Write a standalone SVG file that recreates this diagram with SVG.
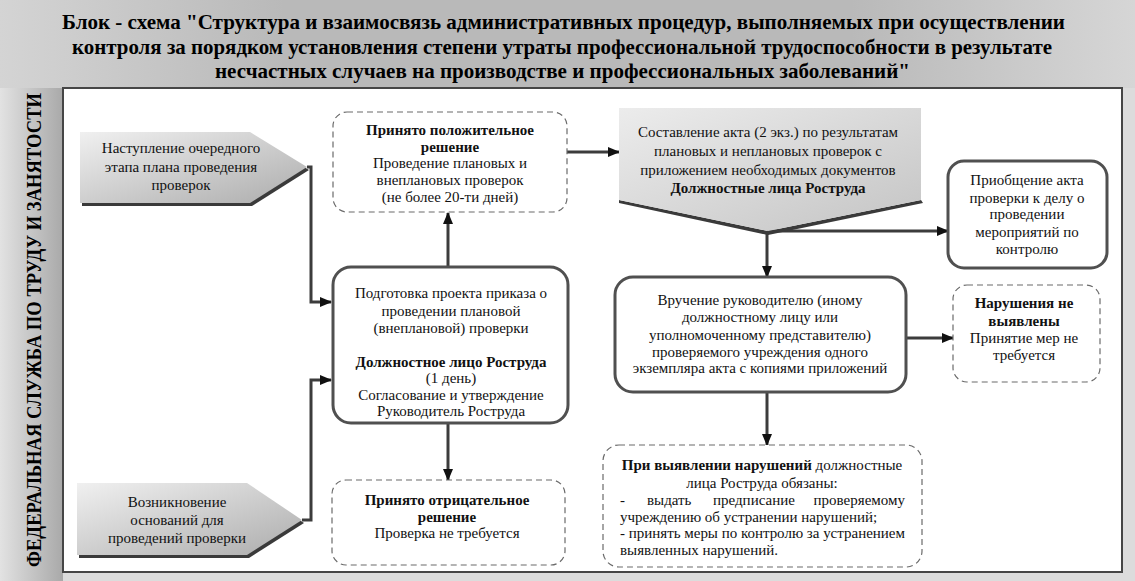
<svg xmlns="http://www.w3.org/2000/svg" width="1135" height="581" viewBox="0 0 1135 581">
<defs>
<linearGradient id="gTitle" x1="0" y1="0" x2="1" y2="0">
<stop offset="0" stop-color="#d4d4d4"/><stop offset="0.25" stop-color="#b9b9b9"/><stop offset="0.75" stop-color="#b9b9b9"/><stop offset="1" stop-color="#d6d6d6"/>
</linearGradient>
<linearGradient id="gSide" x1="0" y1="0" x2="1" y2="0">
<stop offset="0" stop-color="#e2e2e2"/><stop offset="1" stop-color="#a9a9a9"/>
</linearGradient>
<linearGradient id="gShape" x1="0" y1="0" x2="1" y2="1">
<stop offset="0" stop-color="#f0f0f0"/><stop offset="1" stop-color="#acacac"/>
</linearGradient>
<linearGradient id="gAkt" x1="0" y1="0" x2="1" y2="1">
<stop offset="0" stop-color="#ececec"/><stop offset="1" stop-color="#c4c4c4"/>
</linearGradient>
<marker id="arr" markerUnits="userSpaceOnUse" markerWidth="12" markerHeight="10" refX="11" refY="5" orient="auto">
<path d="M0,0 L12,5 L0,10 Z" fill="#111"/>
</marker>
</defs>
<style>
text{font-family:'Liberation Serif','DejaVu Serif','Times New Roman',serif;font-size:15px;fill:#111}
.c{text-anchor:middle}
.b{font-weight:bold}
.title{font-weight:bold;font-size:21px;fill:#000}
.side{font-weight:bold;font-size:20px;fill:#000}
.solid{fill:#fff;stroke:#505050;stroke-width:3}
.dash{fill:#fff;stroke:#6a6a6a;stroke-width:1.2;stroke-dasharray:6 4}
.shadow{fill:#3a3a3a}
.conn{fill:none;stroke:#3c3c3c;stroke-width:3;marker-end:url(#arr)}
</style>

<rect x="0" y="0" width="1135" height="581" fill="#dcdcdc"/>
<rect x="0" y="0" width="1135" height="88" fill="url(#gTitle)"/>
<rect x="0" y="88" width="63" height="493" fill="url(#gSide)"/>
<rect x="63" y="88" width="1059" height="484" fill="#fff" stroke="#464646" stroke-width="2"/>

<g id="title">
<text class="title" x="62" y="29" textLength="1003" lengthAdjust="spacingAndGlyphs">Блок - схема "Структура и взаимосвязь административных процедур, выполняемых при осуществлении</text>
<text class="title" x="72" y="54" textLength="980" lengthAdjust="spacingAndGlyphs">контроля за порядком установления степени утраты профессиональной трудоспособности в результате</text>
<text class="title" x="215" y="78" textLength="695" lengthAdjust="spacingAndGlyphs">несчастных случаев на производстве и профессиональных заболеваний"</text>
</g>

<g id="side-label">
<text class="side" transform="translate(41,567) rotate(-90)" x="0" y="0" textLength="474" lengthAdjust="spacingAndGlyphs">ФЕДЕРАЛЬНАЯ СЛУЖБА ПО ТРУДУ И ЗАНЯТОСТИ</text>
</g>

<g id="connectors">
<path class="conn" d="M307,167 H311 V302 H331"/>
<path class="conn" d="M302,520 H311 V380 H331"/>
<path class="conn" d="M448,267 V213"/>
<path class="conn" d="M448,423 V480"/>
<path class="conn" d="M567,152 H619"/>
<path class="conn" d="M767,231 H948"/>
<path class="conn" d="M767,231 V277"/>
<path class="conn" d="M906,338 H953"/>
<path class="conn" d="M767,392 V445"/>
</g>

<g id="n-nastuplenie">
<polygon class="shadow" points="82,135 252,135 309,170 252,206 82,206"/>
<polygon points="80,132 250,132 307,167 250,203 80,203" fill="url(#gShape)"/>
<text class="c" x="181" y="153">Наступление очередного</text>
<text class="c" x="181" y="172">этапа плана проведения</text>
<text class="c" x="181" y="190">проверок</text>
</g>

<g id="n-vozniknovenie">
<polygon class="shadow" points="79,486 249,486 304,523 249,558 79,558"/>
<polygon points="77,483 247,483 302,520 247,555 77,555" fill="url(#gShape)"/>
<text class="c" x="177" y="507">Возникновение</text>
<text class="c" x="177" y="525">оснований для</text>
<text class="c" x="177" y="543">проведений проверки</text>
</g>

<g id="n-podgotovka">
<rect class="solid" x="333" y="267" width="235" height="156" rx="18"/>
<text class="c" x="451" y="298">Подготовка проекта приказа о</text>
<text class="c" x="451" y="316">проведении плановой</text>
<text class="c" x="451" y="333">(внеплановой) проверки</text>
<text class="c b" x="451" y="367">Должностное лицо Роструда</text>
<text class="c" x="451" y="383">(1 день)</text>
<text class="c" x="451" y="400">Согласование и утверждение</text>
<text class="c" x="451" y="416">Руководитель Роструда</text>
</g>

<g id="n-polozhitelnoe">
<rect class="dash" x="333" y="112" width="234" height="100" rx="14"/>
<text class="c b" x="450" y="135">Принято положительное</text>
<text class="c b" x="450" y="152">решение</text>
<text class="c" x="450" y="168">Проведение плановых и</text>
<text class="c" x="450" y="185">внеплановых проверок</text>
<text class="c" x="450" y="202">(не более 20-ти дней)</text>
</g>

<g id="n-otricatelnoe">
<rect class="dash" x="332" y="480" width="233" height="85" rx="14"/>
<text class="c b" x="447" y="505">Принято отрицательное</text>
<text class="c b" x="447" y="522">решение</text>
<text class="c" x="447" y="538">Проверка не требуется</text>
</g>

<g id="n-akt">
<polygon class="shadow" points="619,200 768,231 921,200 923,203 768,235 619,203"/>
<polygon points="619,108 921,108 921,200 768,231 619,200" fill="url(#gAkt)"/>
<text class="c" x="768" y="137">Составление акта (2 экз.) по результатам</text>
<text class="c" x="768" y="156">плановых и неплановых проверок с</text>
<text class="c" x="768" y="175">приложением необходимых документов</text>
<text class="c b" x="768" y="193">Должностные лица Роструда</text>
</g>

<g id="n-priobshchenie">
<rect class="solid" x="948" y="161" width="159" height="107" rx="16"/>
<text class="c" x="1027" y="185">Приобщение акта</text>
<text class="c" x="1027" y="203">проверки к делу о</text>
<text class="c" x="1027" y="219">проведении</text>
<text class="c" x="1027" y="237">мероприятий по</text>
<text class="c" x="1027" y="254">контролю</text>
</g>

<g id="n-vruchenie">
<rect class="solid" x="615" y="277" width="291" height="115" rx="18"/>
<text class="c" x="760" y="305">Вручение руководителю (иному</text>
<text class="c" x="760" y="322">должностному лицу или</text>
<text class="c" x="760" y="340">уполномоченному представителю)</text>
<text class="c" x="760" y="357">проверяемого учреждения одного</text>
<text class="c" x="760" y="373">экземпляра акта с копиями приложений</text>
</g>

<g id="n-narusheniya-net">
<rect class="dash" x="953" y="285" width="147" height="97" rx="14"/>
<text class="c b" x="1024" y="308">Нарушения не</text>
<text class="c b" x="1024" y="326">выявлены</text>
<text class="c" x="1024" y="343">Принятие мер не</text>
<text class="c" x="1024" y="360">требуется</text>
</g>

<g id="n-pri-vyyavlenii">
<rect class="dash" x="603" y="445" width="319" height="122" rx="16"/>
<text class="c" x="762" y="470"><tspan class="b">При выявлении нарушений</tspan> должностные</text>
<text class="c" x="762" y="488">лица Роструда обязаны:</text>
<text x="620" y="505">-</text>
<text x="647" y="505">выдать</text>
<text x="713" y="505">предписание</text>
<text x="905" y="505" style="text-anchor:end">проверяемому</text>
<text x="620" y="522">учреждению об устранении нарушений;</text>
<text x="620" y="538" textLength="285" lengthAdjust="spacing">- принять меры по контролю за устранением</text>
<text x="620" y="555">выявленных нарушений.</text>
</g>
</svg>
